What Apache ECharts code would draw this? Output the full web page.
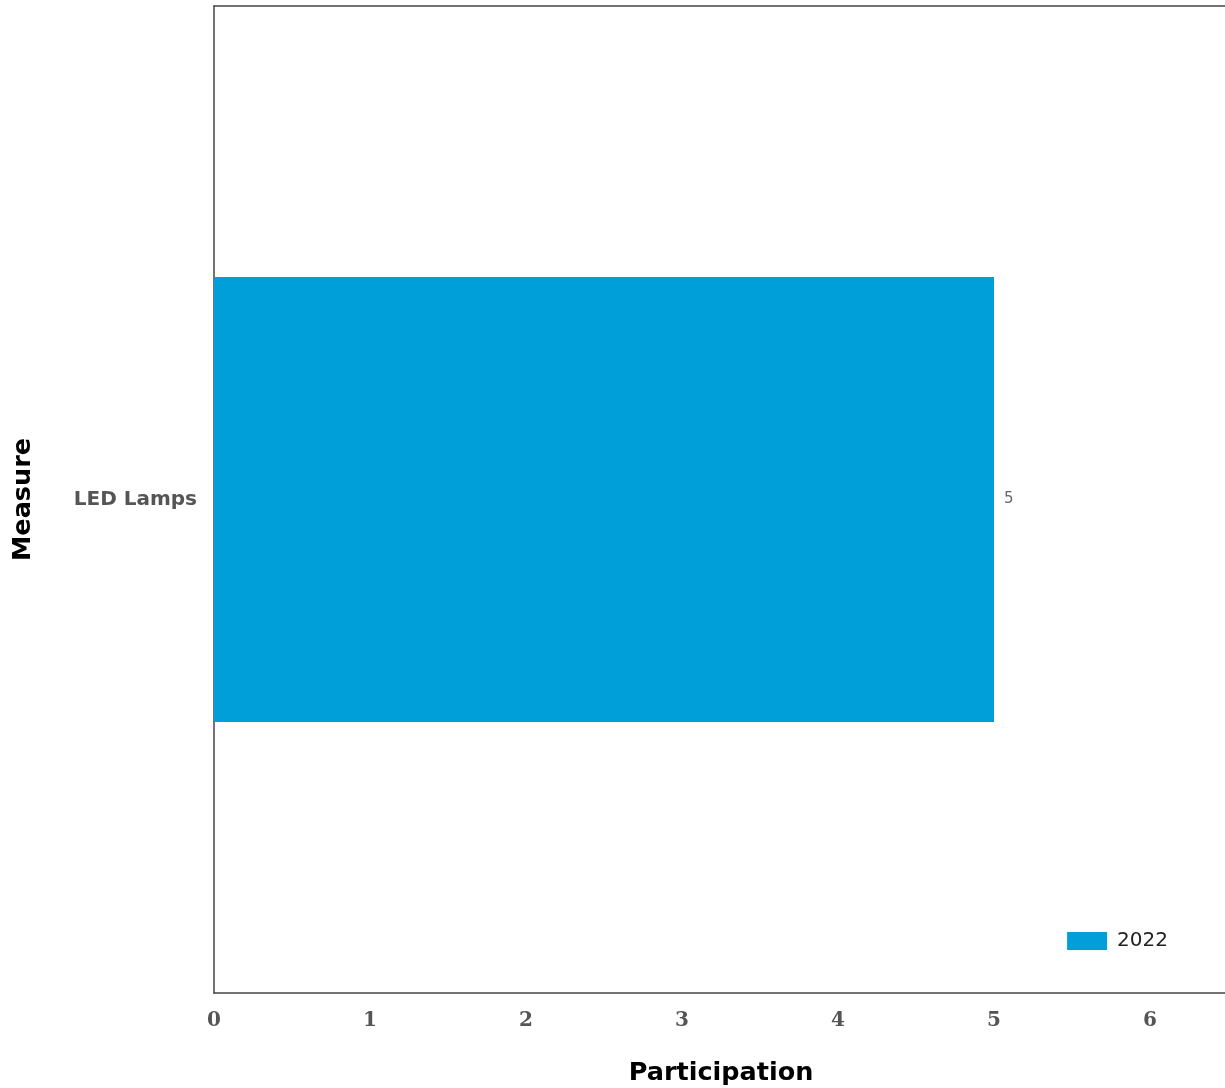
<!DOCTYPE html>
<html>
<head>
<meta charset="utf-8">
<style>
  html, body { margin: 0; padding: 0; background: #fff; }
  #chart { width: 1225px; height: 1088px; }
</style>
<script src="https://cdn.jsdelivr.net/npm/echarts@6/dist/echarts.min.js"></script>
</head>
<body>
<div id="chart"></div>
<script>
// Participation by measure
const categories = ['LED Lamps'];
const seriesName = '2022';
const participation = [5];

const chart = echarts.init(document.getElementById('chart'), null, { renderer: 'canvas' });

const frameLine = { show: true, lineStyle: { color: '#444', width: 1.5 } };

chart.setOption({
  animation: false,
  backgroundColor: '#ffffff',
  grid: { left: 214, top: 6, width: 1014, bottom: 95, outerBoundsMode: 'none', containLabel: false },
  legend: {
    data: [seriesName],
    right: 52, top: 926,
    itemWidth: 40, itemHeight: 18,
    icon: 'rect',
    textStyle: { fontFamily: 'DejaVu Sans', fontSize: 20, color: '#222', padding: [0, 0, 0, 5] }
  },
  xAxis: [{
    type: 'value',
    position: 'bottom',
    min: 0, max: 6.5, interval: 1,
    name: 'Participation',
    nameLocation: 'middle',
    nameGap: 67,
    nameTextStyle: { fontFamily: 'DejaVu Sans', fontWeight: 'bold', fontSize: 25.5, color: '#000' },
    axisLine: frameLine,
    axisTick: { show: false },
    splitLine: { show: false },
    axisLabel: {
      margin: 18, showMaxLabel: false,
      fontFamily: 'DejaVu Serif', fontWeight: 'bold', fontSize: 20, color: '#555'
    }
  }, {
    // top edge of the frame
    type: 'value',
    position: 'top',
    min: 0, max: 6.5, interval: 1,
    axisLine: frameLine,
    axisTick: { show: false },
    axisLabel: { show: false },
    splitLine: { show: false }
  }],
  yAxis: {
    type: 'category',
    data: categories,
    name: 'Measure',
    nameLocation: 'middle',
    nameGap: 178,
    nameRotate: 90,
    nameTextStyle: { fontFamily: 'DejaVu Sans', fontWeight: 'bold', fontSize: 25.5, color: '#000' },
    axisLine: frameLine,
    axisTick: { show: false },
    splitLine: { show: false },
    axisLabel: {
      margin: 17,
      fontFamily: 'DejaVu Sans', fontWeight: 'bold', fontSize: 20, color: '#555'
    }
  },
  series: [{
    name: seriesName,
    type: 'bar',
    xAxisIndex: 0,
    data: participation,
    barWidth: '45.1%',
    itemStyle: { color: '#009FDA' },
    label: {
      show: true, position: 'right', distance: 10,
      fontFamily: 'DejaVu Sans', fontSize: 15, color: '#666'
    }
  }]
});
</script>
</body>
</html>
